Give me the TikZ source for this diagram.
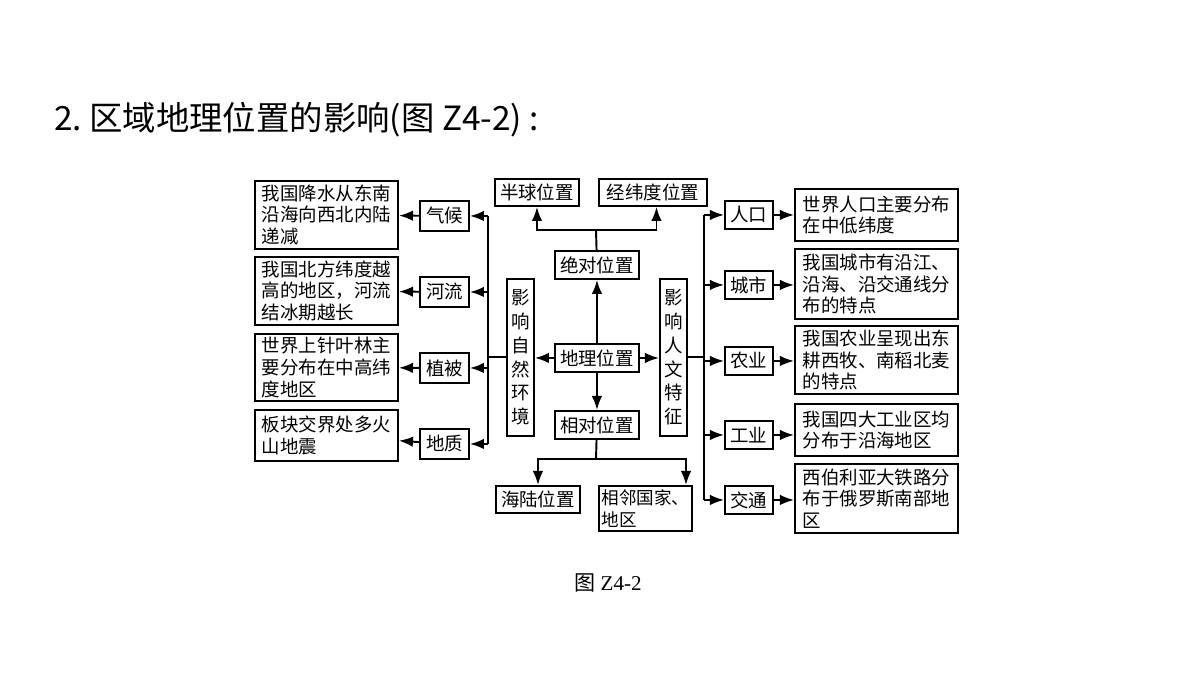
\documentclass[tikz,border=0pt]{standalone}
\usepackage{fontspec}
\newfontfamily\cjk{Noto Sans CJK SC}
\setmainfont{Liberation Serif}
\usetikzlibrary{arrows.meta}
\tikzset{
  box/.style={draw, line width=1.1pt, inner sep=2pt, align=left, anchor=north west,
    font=\cjk\fontsize{10.5}{12.3}\selectfont},
  lbl/.style={box, align=center},
  link/.style={line width=1.1pt},
  arr/.style={link, -{Latex[length=8pt,width=6pt]}}
}
\begin{document}
\begin{tikzpicture}[x=0.02cm,y=-0.02cm]
  \useasboundingbox (0,0) rectangle (1200,675);
  % title and caption
  \node[anchor=west, font=\cjk\fontsize{19}{22}\selectfont] (title) at (48,120) {2.\ 区域地理位置的影响(图 Z4-2) :};
  \node[font=\fontsize{12}{14}\selectfont] (cap) at (608,583) {{\cjk 图} Z4-2};

  % centre
  \node[lbl, minimum width=84*0.02cm, minimum height=28*0.02cm] (dili) at (554,343) {地理位置};
  \node[lbl, minimum width=84*0.02cm, minimum height=28*0.02cm] (juedui) at (554,250) {绝对位置};
  \node[lbl, minimum width=84*0.02cm, minimum height=28*0.02cm] (xiangdui) at (554,410) {相对位置};
  \node[lbl, minimum width=84*0.02cm, minimum height=27*0.02cm] (banqiu) at (494,178) {半球位置};
  \node[lbl, minimum width=108*0.02cm, minimum height=27*0.02cm] (jingwei) at (598,178) {经纬度位置};
  \node[lbl, minimum width=84*0.02cm, minimum height=27*0.02cm] (hailu) at (495,485) {海陆位置};
  \node[box, minimum width=64*0.02cm, minimum height=45*0.02cm, inner sep=1.5pt,
    font=\cjk\fontsize{10}{12.3}\selectfont] (xianglin) at (598,485) {相邻国家、\\地区};
  \node[lbl, minimum width=27*0.02cm, minimum height=157*0.02cm, inner sep=1pt,
    font=\cjk\fontsize{10.5}{13.5}\selectfont] (ziran) at (506,278) {影\\响\\自\\然\\环\\境};
  \node[lbl, minimum width=27*0.02cm, minimum height=157*0.02cm, inner sep=1pt,
    font=\cjk\fontsize{10.5}{13.5}\selectfont] (renwen) at (659,278) {影\\响\\人\\文\\特\\征};

  % left side
  \foreach \name/\txt/\y in {qihou/气候/200, heliu/河流/276, zhibei/植被/352, dizhi/地质/428}
    \node[lbl, minimum width=49*0.02cm, minimum height=30*0.02cm] (\name) at (419,\y) {\txt};
  \node[box, minimum width=143*0.02cm, minimum height=68*0.02cm] (qihoud) at (254,180) {我国降水从东南\\沿海向西北内陆\\递减};
  \node[box, minimum width=143*0.02cm, minimum height=68*0.02cm] (heliud) at (254,256) {我国北方纬度越\\高的地区，河流\\结冰期越长};
  \node[box, minimum width=143*0.02cm, minimum height=67*0.02cm] (zhibeid) at (254,333) {世界上针叶林主\\要分布在中高纬\\度地区};
  \node[box, minimum width=143*0.02cm, minimum height=51*0.02cm] (dizhid) at (254,409) {板块交界处多火\\山地震};

  % right side
  \foreach \name/\txt/\y in {renkou/人口/200, chengshi/城市/270, nongye/农业/346, gongye/工业/420, jiaotong/交通/485}
    \node[lbl, minimum width=48*0.02cm, minimum height=28*0.02cm] (\name) at (724,\y) {\txt};
  \node[box, minimum width=163*0.02cm, minimum height=52*0.02cm] (renkoud) at (794,188) {世界人口主要分布\\在中低纬度};
  \node[box, minimum width=163*0.02cm, minimum height=70*0.02cm] (chengshid) at (794,248) {我国城市有沿江、\\沿海、沿交通线分\\布的特点};
  \node[box, minimum width=163*0.02cm, minimum height=68*0.02cm] (nongyed) at (794,325) {我国农业呈现出东\\耕西牧、南稻北麦\\的特点};
  \node[box, minimum width=163*0.02cm, minimum height=52*0.02cm] (gongyed) at (794,403) {我国四大工业区均\\分布于沿海地区};
  \node[box, minimum width=163*0.02cm, minimum height=69*0.02cm] (jiaotongd) at (794,463) {西伯利亚大铁路分\\布于俄罗斯南部地\\区};

  % centre links
  \draw[arr] (dili) -- (juedui);
  \draw[arr] (dili) -- (xiangdui);
  \draw[arr] (dili) -- (ziran.east |- dili);
  \draw[arr] (dili) -- (renwen.west |- dili);
  \coordinate (topfork) at (596,230);
  \coordinate (botfork) at (596,459);
  \draw[link] (juedui) -- (topfork);
  \draw[arr] (topfork) -| (banqiu);
  \draw[arr] (topfork) -| ([xshift=2pt]jingwei.south);
  \draw[link] (xiangdui) -- (botfork);
  \draw[arr] (botfork) -| (hailu);
  \draw[arr] (botfork) -| ([xshift=-4pt]xianglin.north east);

  % left links
  \coordinate (lbus) at (488,357);
  \draw[link] (ziran.west |- lbus) -- (lbus);
  \draw[link] (lbus |- qihou.east) -- (lbus |- dizhi.east);
  \foreach \name in {qihou, heliu, zhibei, dizhi} {
    \draw[arr] (lbus |- \name.east) -- (\name.east);
    \draw[arr] (\name) -- (\name d);
  }

  % right links
  \coordinate (rbus) at (704,357);
  \draw[link] (renwen.east |- rbus) -- (rbus);
  \draw[link] (rbus |- renkou.west) -- (rbus |- jiaotong.west);
  \foreach \name in {renkou, chengshi, nongye, gongye, jiaotong} {
    \draw[arr] (rbus |- \name.west) -- (\name.west);
    \draw[arr] (\name) -- (\name d.west |- \name);
  }
\end{tikzpicture}
\end{document}
